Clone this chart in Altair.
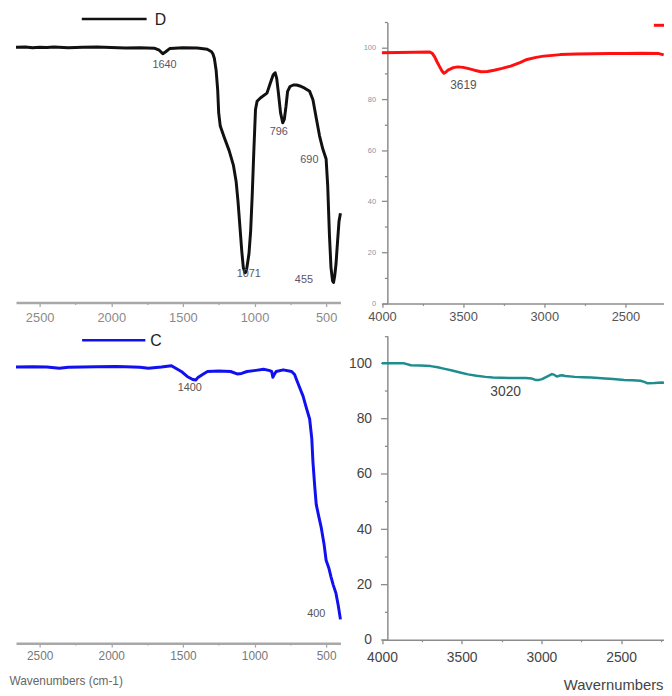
import altair as alt
import pandas as pd

# ---------------- data ----------------
# Spectrum D (black, top-left)
d_wn = [2665, 2600, 2550, 2500, 2450, 2400, 2300, 2200, 2100, 2000,
        1900, 1800, 1700, 1665, 1640, 1620, 1590, 1500, 1400, 1330,
        1300, 1290, 1280, 1268, 1257, 1250, 1239, 1211, 1177, 1147,
        1128, 1115, 1101, 1089, 1078, 1067, 1062, 1055, 1039, 1027,
        1016, 1005, 993, 982, 959, 913, 890, 870, 856, 845,
        833, 818, 803, 792, 780, 769, 752, 729, 706, 683,
        661, 638, 615, 592, 569, 546, 523, 511, 500, 489,
        477, 466, 455, 448, 440, 431, 420, 410, 400]
d_t = [100.0, 100.1, 99.8, 100.0, 99.9, 100.1, 99.8, 100.0, 100.1, 99.9,
       99.7, 99.8, 99.6, 98.8, 97.4, 98.2, 99.5, 99.8, 99.7, 99.2,
       98.2, 97.3, 95.6, 91.0, 83.3, 74.3, 69.1, 64.6, 59.5, 53.7,
       47.3, 39.5, 29.2, 20.2, 13.7, 11.7, 11.9, 13.0, 18.9, 27.9,
       42.0, 58.8, 75.6, 78.8, 80.1, 82.0, 85.9, 89.1, 90.0, 87.8,
       82.0, 74.3, 70.4, 71.7, 76.9, 82.7, 84.6, 85.2, 85.2, 84.8,
       84.3, 83.5, 82.7, 79.4, 72.3, 65.3, 60.1, 58.1, 56.2, 45.9,
       26.6, 13.7, 8.5, 7.9, 10.5, 15.1, 24.1, 31.8, 35.0]

# Spectrum C (blue, bottom-left)
c_wn = [2665, 2550, 2450, 2362, 2300, 2200, 2100, 1971, 1900, 1800,
        1741, 1650, 1580, 1511, 1470, 1431, 1410, 1397, 1360, 1328,
        1250, 1167, 1121, 1090, 1052, 990, 937, 900, 880, 872,
        864, 849, 799, 741, 720, 707, 685, 661, 640, 615,
        600, 592, 580, 569, 550, 534, 515, 500, 480, 466,
        450, 431, 415, 400]
c_t = [99.9, 100.0, 99.9, 99.5, 99.8, 99.9, 100.0, 100.1, 100.0, 99.8,
       99.5, 99.9, 100.4, 98.3, 96.5, 95.4, 95.2, 96.0, 97.3, 98.3,
       98.5, 98.3, 97.4, 97.6, 98.3, 98.7, 99.1, 98.7, 98.3, 96.2,
       97.0, 98.3, 98.9, 98.3, 97.2, 95.4, 92.5, 89.4, 85.5, 81.1,
       74.0, 65.6, 57.0, 50.2, 45.5, 41.8, 36.0, 30.0, 27.0, 24.0,
       21.0, 18.0, 13.5, 8.6]

# Red spectrum (top-right)
r_wn = [4000, 3900, 3800, 3705, 3690, 3675, 3660, 3644, 3630, 3618,
        3605, 3593, 3560, 3533, 3500, 3472, 3430, 3390, 3350, 3309,
        3260, 3207, 3150, 3106, 3050, 3004, 2950, 2902, 2800, 2700,
        2598, 2500, 2400, 2293, 2264]
r_t = [98.1, 98.2, 98.3, 98.4, 97.9, 96.5, 94.5, 92.6, 91.0, 90.1,
       90.6, 91.3, 92.3, 92.6, 92.4, 92.0, 91.3, 90.7, 90.8, 91.3,
       92.0, 92.9, 94.3, 95.5, 96.3, 96.8, 97.1, 97.4, 97.6, 97.7,
       97.8, 97.8, 97.9, 97.8, 97.3]

# Teal spectrum (bottom-right)
g_wn = [4000, 3940, 3860, 3819, 3760, 3695, 3650, 3613, 3560, 3510,
        3460, 3407, 3350, 3305, 3250, 3202, 3150, 3099, 3060, 3037,
        3015, 2996, 2965, 2934, 2918, 2903, 2888, 2872, 2850, 2790,
        2740, 2687, 2600, 2550, 2481, 2430, 2379, 2355, 2337, 2290,
        2245, 2231]
g_t = [100.0, 100.0, 100.0, 99.3, 99.2, 99.0, 98.6, 98.1, 97.4, 96.7,
       96.0, 95.5, 95.1, 94.9, 94.8, 94.7, 94.7, 94.7, 94.5, 94.0,
       94.0, 94.3, 95.2, 96.1, 95.8, 95.2, 95.5, 95.7, 95.4, 95.1,
       95.0, 94.9, 94.5, 94.3, 94.0, 93.9, 93.7, 93.3, 92.8, 92.9,
       93.1, 93.0]

# peak annotations (text, wavenumber, %T anchor)
d_lab = ["1640", "1071", "796", "690", "455"]
d_lab_wn = [1628, 1040, 831, 617, 655]
d_lab_t = [93.2, 11.0, 66.9, 55.7, 9.0]
c_lab = ["1400", "400"]
c_lab_wn = [1452, 569]
c_lab_t = [92.4, 10.5]
r_lab = ["3619"]
r_lab_wn = [3498]
r_lab_t = [85.4]
g_lab = ["3020"]
g_lab_wn = [3224]
g_lab_t = [89.5]

# axis ticks
x_ticks_left = [2500, 2250, 2000, 1750, 1500, 1250, 1000, 750, 500]
x_ticks_right = [4000, 3750, 3500, 3250, 3000, 2750, 2500, 2250]
y_ticks = [0, 10, 20, 30, 40, 50, 60, 70, 80, 90, 100, 110]

legend_d = ["D"]
legend_c = ["C"]
legend_r = ["red"]

FONT = "Liberation Sans"
W, H = 664, 688


def cond(test, major, minor):
    return {"condition": {"test": test, "value": major}, "value": minor}


XMAJ = "datum.value % 500 === 0"
YMAJ = "datum.value % 20 === 0"


def x_axis(values, offset, size, color, pad, dcolor, dwidth, tmaj, **kw):
    return alt.Axis(
        orient="bottom", values=values, format="d", offset=offset,
        labelExpr=XMAJ + " ? datum.label : ''", labelFlush=False,
        labelOverlap=False, labelFontSize=size, labelColor=color,
        labelFont=FONT, labelPadding=pad, domainColor=dcolor,
        domainWidth=dwidth, tickColor=dcolor, tickWidth=1.3,
        tickSize=cond(XMAJ, tmaj, 2), grid=False, **kw)


def y_axis(offset, size, color, pad, tmaj):
    return alt.Axis(
        orient="left", values=y_ticks, format="d", offset=offset,
        labelExpr=YMAJ + " ? datum.label : ''", labelFlush=False,
        labelOverlap=False, labelFontSize=size, labelColor=color,
        labelFont=FONT, labelPadding=pad, domainColor="#8c8c8c",
        domainWidth=1.5, tickColor="#8c8c8c", tickWidth=1.3,
        tickSize=cond(YMAJ, tmaj, 3), grid=False, title=None)


def panel(wn, t, color, lw, xdom, xrng, yrng, xax, yax,
          lab, lab_wn, lab_t, lab_size, lab_color):
    df = pd.DataFrame({"wn": wn, "t": t})
    ldf = pd.DataFrame({"wn": lab_wn, "t": lab_t, "label": lab})
    x = alt.X("wn:Q", scale=alt.Scale(domain=xdom, range=xrng, nice=False, zero=False), axis=xax)
    y = alt.Y("t:Q", scale=alt.Scale(domain=[0, 110], range=yrng, nice=False, zero=False), axis=yax)
    line = alt.Chart(df).mark_line(color=color, strokeWidth=lw, clip=True,
                                   strokeJoin="round").encode(x=x, y=y)
    txt = alt.Chart(ldf).mark_text(fontSize=lab_size, color=lab_color, font=FONT,
                                   align="center", baseline="middle").encode(
        x=x, y=y, text="label:N")
    return alt.layer(line, txt)


pD = panel(d_wn, d_t, "#111111", 3, [2665, 400], [8.1, 336.5], [294, 9.6],
           x_axis(x_ticks_left, -394, 13, "#8a8a8a", 5, "#a8a8a8", 2.5, 4, title=None),
           None, d_lab, d_lab_wn, d_lab_t, 11, "#5a5466")

pR = panel(r_wn, r_t, "#ff1010", 3, [4000, 2264], [378.5, 663.7], [294.8, 10.4],
           x_axis(x_ticks_right, -393.2, 13, "#555555", 3, "#8c8c8c", 1.5, 4, title=None),
           y_axis(-384, 7.5, "#8795a8", 6, 6),
           r_lab, r_lab_wn, r_lab_t, 12, "#555555")

pC = panel(c_wn, c_t, "#1010f0", 3, [2665, 400], [8.1, 336.5], [638.7, 331],
           x_axis(x_ticks_left, -49.3, 12, "#777777", 4, "#a8a8a8", 2.5, 4,
                  title="Wavenumbers (cm-1)", titleX=1, titleY=37.6,
                  titleAlign="left", titleBaseline="middle", titleAnchor="start",
                  titleFontSize=12, titleFontWeight="normal", titleColor="#666666",
                  titleFont=FONT),
           None, c_lab, c_lab_wn, c_lab_t, 11, "#555555")

pG = panel(g_wn, g_t, "#1f8d8d", 2.5, [4000, 2231], [378.5, 664], [635.2, 327.5],
           x_axis(x_ticks_right, -52.8, 14, "#444444", 7, "#8c8c8c", 1.5, 4,
                  title="Wavernumbers (cm-1)", titleX=562, titleY=45.5,
                  titleAlign="left", titleBaseline="middle", titleAnchor="start",
                  titleFontSize=15, titleFontWeight="normal", titleColor="#444444",
                  titleFont=FONT),
           y_axis(-384, 14, "#444444", 9, 7),
           g_lab, g_lab_wn, g_lab_t, 14, "#444444")

# legend keys
ld = pd.DataFrame({"name": legend_d})
lc = pd.DataFrame({"name": legend_c})
lr = pd.DataFrame({"name": legend_r})
leg_d_rule = alt.Chart(ld).mark_rule(color="#111111", strokeWidth=2.5).encode(
    x=alt.value(74.7), x2=alt.value(140.3), y=alt.value(7))
leg_d_text = alt.Chart(ld).mark_text(align="left", baseline="middle", fontSize=16,
                                     color="#222222", font=FONT).encode(
    x=alt.value(148.5), y=alt.value(8), text="name:N")
leg_c_rule = alt.Chart(lc).mark_rule(color="#1010f0", strokeWidth=2.5).encode(
    x=alt.value(75), x2=alt.value(139), y=alt.value(332))
leg_c_text = alt.Chart(lc).mark_text(align="left", baseline="middle", fontSize=16,
                                     color="#222222", font=FONT).encode(
    x=alt.value(144), y=alt.value(332.5), text="name:N")
leg_r_rule = alt.Chart(lr).mark_rule(color="#ff1010", strokeWidth=3).encode(
    x=alt.value(653.7), x2=alt.value(664), y=alt.value(13.3))

chart = alt.layer(
    pD, pR, pC, pG,
    leg_d_rule, leg_d_text, leg_c_rule, leg_c_text, leg_r_rule,
).resolve_scale(
    x="independent", y="independent"
).resolve_axis(
    x="independent", y="independent"
).properties(
    width=W, height=H, padding=0,
    autosize=alt.AutoSizeParams(type="none"),
).configure(font=FONT).configure_view(stroke=None)

chart.save("out.html", embed_options={"renderer": "svg", "actions": False})
